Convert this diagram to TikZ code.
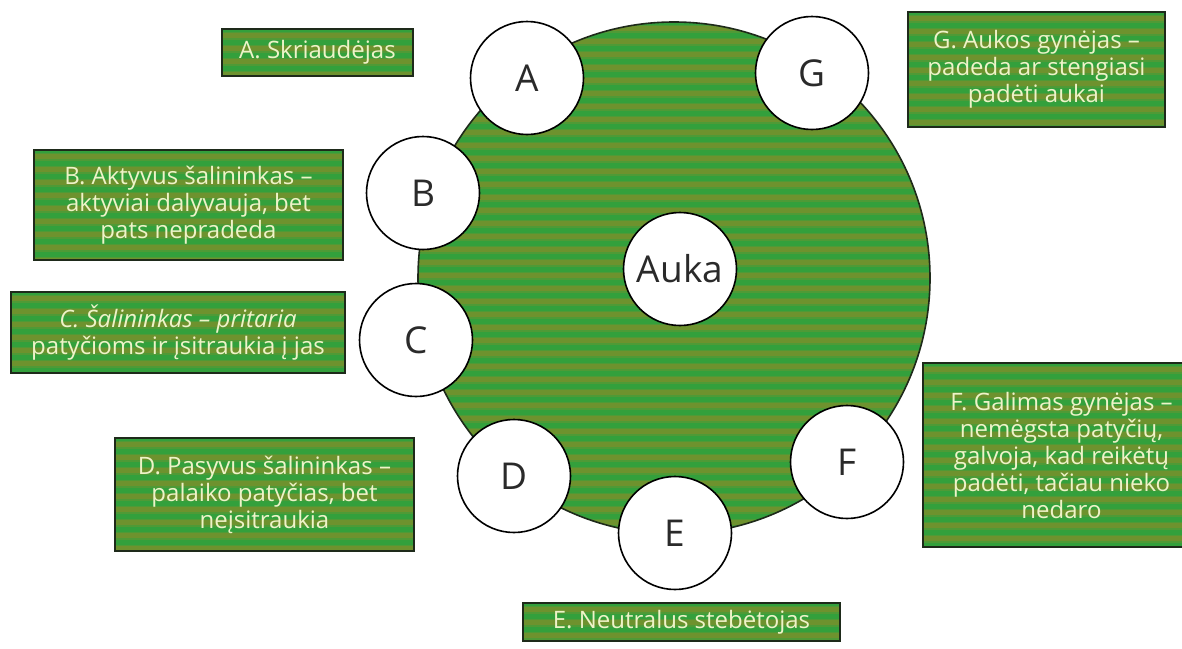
\documentclass[tikz,border=0pt]{standalone}
\usepackage{fontspec}
\setmainfont{Open Sans}
\definecolor{gbase}{HTML}{33A03C}
\definecolor{gstripe}{HTML}{6E922E}
\definecolor{gmid}{HTML}{4F9A36}
\definecolor{txtcream}{HTML}{EEF3C8}
\definecolor{letterc}{HTML}{2A2A2A}
\definecolor{boxline}{HTML}{1E2A1A}
\begin{document}
\begin{tikzpicture}[x=1pt,y=-1pt,
  stripes/.style={fill=gbase, path picture={
    \foreach \k in {0,...,45}{
      \fill[gmid] ([yshift=-\k*13pt-2.5pt]path picture bounding box.north west) rectangle ([yshift=-\k*13pt-10.5pt]path picture bounding box.north east);
      \fill[gstripe] ([yshift=-\k*13pt-4pt]path picture bounding box.north west) rectangle ([yshift=-\k*13pt-9pt]path picture bounding box.north east);
    }}},
  bigc/.style={circle, draw=boxline, line width=1.6pt, stripes, minimum size=512pt, inner sep=0pt},
  role/.style={circle, draw=black, line width=1.6pt, fill=white, minimum size=113pt, inner sep=0pt,
    text=letterc, font=\fontsize{37}{42}\selectfont},
  desc/.style={rectangle, draw=boxline, line width=2pt, stripes, text=txtcream, align=center,
    inner sep=0pt, font=\fontsize{24}{27}\selectfont}
]
\useasboundingbox (0,0) rectangle (1182,648);
\fill[white] (0,0) rectangle (1182,648);

\node[bigc] (big) at (674,278) {};

\node[role] (a) at (527,78) {A};
\node[role] (g) at (812,73) {G};
\node[role] (b) at (423,193) {B};
\node[role] (c) at (416,340) {C};
\node[role] (d) at (514,476) {D};
\node[role] (e) at (675,533) {E};
\node[role] (f) at (847,462) {F};
\node[role] (auka) at (680,269) {Auka};

\node[desc, minimum width=191pt, minimum height=47pt] (ta) at (317.5,52.5) {A. Skriaudėjas};
\node[desc, minimum width=309pt, minimum height=110pt] (tb) at (188.5,205) {B. Aktyvus šalininkas –\\aktyviai dalyvauja, bet\\pats nepradeda};
\node[desc, minimum width=334pt, minimum height=81pt] (tc) at (178,332.5) {\itshape C. Šalininkas – pritaria\\patyčioms ir įsitraukia į jas};
\node[desc, minimum width=299pt, minimum height=113pt] (td) at (264.5,494.5) {D. Pasyvus šalininkas –\\palaiko patyčias, bet\\neįsitraukia};
\node[desc, minimum width=317pt, minimum height=38pt] (te) at (681.5,622) {E. Neutralus stebėtojas};
\node[desc, minimum width=257pt, minimum height=115pt] (tg) at (1036.5,69.5) {G. Aukos gynėjas –\\padeda ar stengiasi\\padėti aukai};
\node[desc, minimum width=277pt, minimum height=184pt] (tf) at (1061.5,455) {F. Galimas gynėjas –\\nemėgsta patyčių,\\galvoja, kad reikėtų\\padėti, tačiau nieko\\nedaro};
\end{tikzpicture}
\end{document}
